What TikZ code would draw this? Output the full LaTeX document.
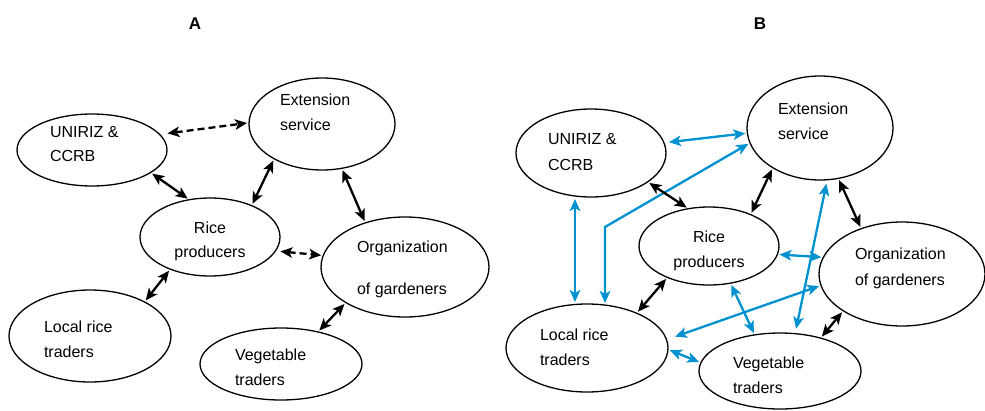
\documentclass[tikz,border=0pt]{standalone}
\usepackage{fontspec}
\setmainfont{Liberation Sans}
\usetikzlibrary{shapes.geometric,arrows.meta,calc}
\definecolor{linkblue}{RGB}{0,146,208}
\begin{document}
\begin{tikzpicture}[x=1pt,y=-1pt,
  actor/.style={draw,ellipse,line width=1.3pt,inner sep=0pt,outer sep=0pt},
  lbl/.style={anchor=base west,inner sep=0pt,outer sep=0pt,font=\fontsize{16}{18}\selectfont},
  clbl/.style={anchor=base,inner sep=0pt,outer sep=0pt,font=\fontsize{16}{18}\selectfont},
  ttl/.style={anchor=base,inner sep=0pt,font=\fontsize{17}{18}\selectfont\bfseries},
  link/.style={line width=2.3pt,{Stealth[length=12pt,width=10.5pt,inset=3pt]}-{Stealth[length=12pt,width=10.5pt,inset=3pt]},shorten <=2pt,shorten >=2pt},
  blink/.style={link,draw=linkblue},
  dlink/.style={link,dash pattern=on 7pt off 4pt}]
\useasboundingbox (0,0) rectangle (985,410);

% titles
\node[ttl] (tA) at (195,29) {A};
\node[ttl] (tB) at (760,29) {B};

% ---------- Panel A ----------
\node[actor,minimum width=150pt,minimum height=72pt] (uA) at (92,150) {};
\node[actor,minimum width=146pt,minimum height=92pt] (eA) at (322,124) {};
\node[actor,minimum width=140pt,minimum height=78pt] (rA) at (210,237) {};
\node[actor,minimum width=168pt,minimum height=100pt] (oA) at (405,267) {};
\node[actor,minimum width=162pt,minimum height=92pt] (lA) at (90,336) {};
\node[actor,minimum width=162pt,minimum height=72pt] (vA) at (281,364) {};

\node[lbl] (uA1) at (50,137) {UNIRIZ \&};
\node[lbl] (uA2) at (50,161) {CCRB};
\node[lbl] (eA1) at (280,105) {Extension};
\node[lbl] (eA2) at (280,130) {service};
\node[clbl] (rA1) at (210,233) {Rice};
\node[clbl] (rA2) at (210,257) {producers};
\node[lbl] (oA1) at (357,252) {Organization};
\node[lbl] (oA2) at (357,294) {of gardeners};
\node[lbl] (lA1) at (44,332) {Local rice};
\node[lbl] (lA2) at (44,357) {traders};
\node[lbl] (vA1) at (235,360) {Vegetable};
\node[lbl] (vA2) at (235,385) {traders};

\draw[dlink,shorten <=8pt] (uA.13) -- (eA.179);
\draw[link] (uA.-21) -- (rA.119);
\draw[link] (rA.37) -- (eA.216);
\draw[link] (eA.-66) -- (oA.132);
\draw[dlink,shorten <=5pt] (rA.-12) -- (oA.172);
\draw[link] (rA.219) -- (lA.32);
\draw[link] (oA.211) -- (vA.41);

% ---------- Panel B ----------
\node[actor,minimum width=150pt,minimum height=88pt] (uB) at (591,153) {};
\node[actor,minimum width=146pt,minimum height=104pt] (eB) at (820,128) {};
\node[actor,minimum width=140pt,minimum height=78pt] (rB) at (709,246) {};
\node[actor,minimum width=166pt,minimum height=104pt] (oB) at (902,274) {};
\node[actor,minimum width=162pt,minimum height=88pt] (lB) at (587,348) {};
\node[actor,minimum width=162pt,minimum height=76pt] (vB) at (780,371) {};

\node[lbl] (uB1) at (548,144) {UNIRIZ \&};
\node[lbl] (uB2) at (548,170) {CCRB};
\node[lbl] (eB1) at (778,114) {Extension};
\node[lbl] (eB2) at (778,139) {service};
\node[clbl] (rB1) at (709,242) {Rice};
\node[clbl] (rB2) at (709,267) {producers};
\node[lbl] (oB1) at (855,259) {Organization};
\node[lbl] (oB2) at (855,285) {of gardeners};
\node[lbl] (lB1) at (540,340) {Local rice};
\node[lbl] (lB2) at (540,365) {traders};
\node[lbl] (vB1) at (733,368) {Vegetable};
\node[lbl] (vB2) at (733,393) {traders};

% blue links
\coordinate (kB) at (605,227);
\draw[blink,shorten <=5pt] (uB.8) -- (eB.184);
\draw[blink] (kB |- lB.68) -- (kB) -- (eB.192);
\draw[blink] ($(uB.south)+(-16,0)$) -- ($(lB.north)+(-12,0)$);
\draw[blink] (rB.-7) -- (oB.168);
\draw[blink] (rB.-60) -- (vB.125);
\draw[blink,shorten <=9pt] (lB.6) -- (oB.188);
\draw[blink] (lB.-1) -- (vB.174);
\draw[blink,shorten <=5pt,shorten >=4pt] (vB.68) -- (eB.-82);

% black links
\draw[link] (uB.-27) -- (rB.119);
\draw[link] (rB.37) -- (eB.220);
\draw[link] (eB.-70) -- (oB.132);
\draw[link] (rB.217) -- (lB.35);
\draw[link] (oB.212) -- (vB.39);
\end{tikzpicture}
\end{document}
